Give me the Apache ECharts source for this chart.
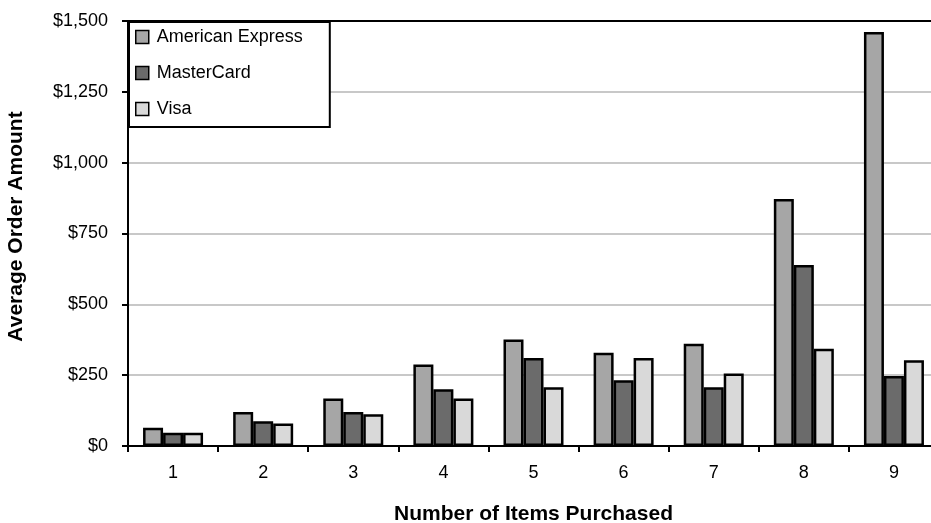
<!DOCTYPE html>
<html>
<head>
<meta charset="utf-8">
<script src="https://cdn.jsdelivr.net/npm/echarts@6/dist/echarts.min.js"></script>
<style>
html,body{margin:0;padding:0;background:#fff;}
#chart{width:931px;height:523px;}
</style>
</head>
<body>
<div id="chart"></div>
<script>
const categories = ['1','2','3','4','5','6','7','8','9'];
const amexValues = [64, 120, 168, 288, 376, 329, 361, 872, 1461];
const masterValues = [47, 87, 120, 200, 311, 232, 207, 639, 247];
const visaValues = [47, 79, 112, 168, 207, 311, 256, 343, 303];
const seriesNames = ['American Express', 'MasterCard', 'Visa'];
const yTicks = [0, 250, 500, 750, 1000, 1250, 1500];

const FONT = '"Liberation Sans", Arial, sans-serif';
const colors = ['#a6a6a6', '#6b6b6b', '#d9d9d9'];
const chart = echarts.init(document.getElementById('chart'), null, {renderer: 'canvas'});

function barSeries(name, data, color) {
  return {
    name: name,
    type: 'bar',
    data: data,
    barWidth: 20,
    barGap: '0%',
    itemStyle: {color: color, borderColor: '#000', borderWidth: 2.5},
    emphasis: {disabled: true},
    animation: false
  };
}

chart.setOption({
  animation: false,
  textStyle: {fontFamily: FONT},
  grid: {left: 128, top: 21, width: 811, height: 425, containLabel: false, outerBoundsMode: 'none'},
  legend: {
    orient: 'vertical',
    left: 129,
    top: 22,
    data: seriesNames,
    icon: 'rect',
    itemWidth: 13,
    itemHeight: 13,
    itemGap: 16,
    padding: [5, 27, 8, 6],
    backgroundColor: '#fff',
    borderColor: '#000',
    borderWidth: 2,
    borderRadius: 0,
    itemStyle: {borderColor: '#000', borderWidth: 1.5},
    textStyle: {fontFamily: FONT, fontSize: 18, color: '#000', lineHeight: 20, padding: [0, 0, 0, 3]},
    selectedMode: false
  },
  xAxis: {
    type: 'category',
    data: categories,
    boundaryGap: true,
    name: 'Number of Items Purchased',
    nameLocation: 'middle',
    nameGap: 58,
    nameTextStyle: {fontFamily: FONT, fontSize: 21, fontWeight: 'bold', color: '#000'},
    axisLine: {show: true, lineStyle: {color: '#000', width: 2}},
    axisTick: {show: true, length: 6, lineStyle: {color: '#000', width: 2}},
    axisLabel: {fontFamily: FONT, fontSize: 18, color: '#000', margin: 18},
    splitLine: {show: false}
  },
  yAxis: {
    type: 'value',
    min: yTicks[0],
    max: yTicks[yTicks.length - 1],
    interval: yTicks[1] - yTicks[0],
    name: 'Average Order Amount',
    nameLocation: 'middle',
    nameGap: 101,
    nameRotate: 90,
    nameTextStyle: {fontFamily: FONT, fontSize: 21, fontWeight: 'bold', color: '#000', padding: [0, 0, 0, 14]},
    axisLine: {show: true, lineStyle: {color: '#000', width: 2}},
    axisTick: {show: true, length: 6, lineStyle: {color: '#000', width: 2}},
    axisLabel: {
      fontFamily: FONT, fontSize: 18, color: '#000', margin: 20,
      formatter: function (v) { return '$' + v.toLocaleString('en-US'); }
    },
    splitLine: {show: true, lineStyle: {color: ['#c8c8c8','#c8c8c8','#c8c8c8','#c8c8c8','#c8c8c8','#c8c8c8','#000'], width: 2}}
  },
  series: [
    barSeries(seriesNames[0], amexValues, colors[0]),
    barSeries(seriesNames[1], masterValues, colors[1]),
    barSeries(seriesNames[2], visaValues, colors[2])
  ]
});
</script>
</body>
</html>
